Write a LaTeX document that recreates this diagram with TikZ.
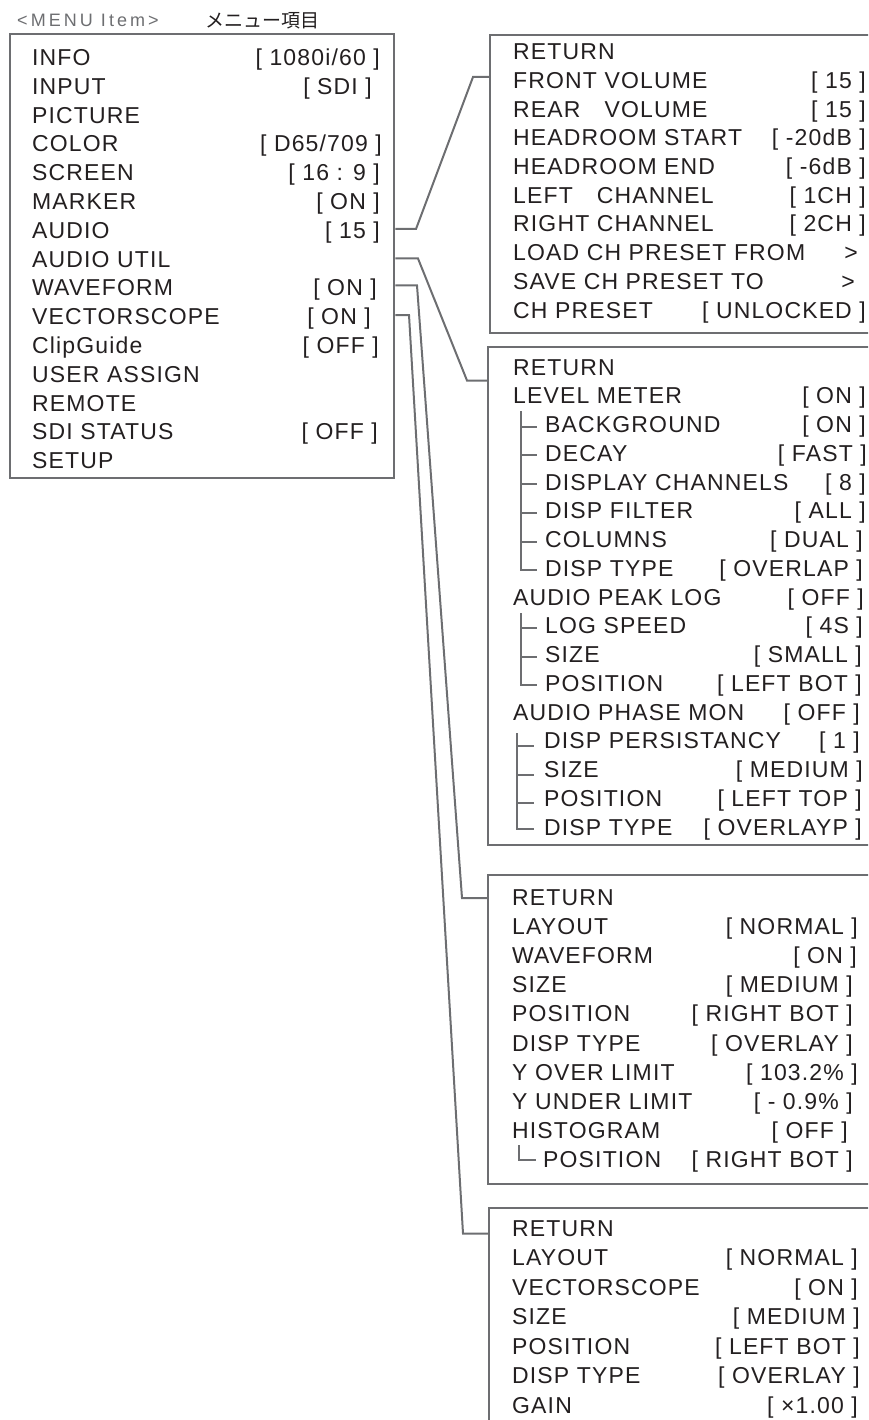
\documentclass[tikz,border=0pt]{standalone}
\usepackage{fontspec}
\setmainfont{Liberation Sans}
\newfontfamily\menufont[LetterSpace=5]{Liberation Sans}
\newfontfamily\headfont[LetterSpace=17]{Liberation Sans}
\newfontfamily\jpfont{Noto Sans CJK JP}
\definecolor{ink}{HTML}{231F20}
\definecolor{frame}{HTML}{6D6E71}

\begin{document}
\begin{tikzpicture}[x=1pt, y=-1pt, line join=miter, font=\menufont\fontsize{23}{23}\selectfont,
	lbl/.style={anchor=base west, inner sep=0pt, text=ink},
	val/.style={anchor=base east, inner sep=0pt, text=ink},
	menubox/.style={draw=frame, line width=2.3pt, anchor=north west, inner sep=0pt},
	link/.style={draw=frame, line width=2pt},
	tree/.style={draw=frame, line width=2pt}]
	\clip (0,0) rectangle (868,1420);
	
	% 1. Header
	\node[anchor=base west, inner sep=0pt, text=frame, font=\headfont\fontsize{18}{18}\selectfont] (hdr) at (17,27) {<MENU Item>};
	\node[lbl, font=\jpfont\fontsize{19}{19}\selectfont] (hdrjp) at (205,28) {メニュー項目};
	
	% 2. Main menu
	\node[menubox, minimum width=384pt, minimum height=444pt] (mainmenu) at (9,33) {};
	\foreach \txt [count=\i from 0] in {INFO, INPUT, PICTURE, COLOR, SCREEN, MARKER, AUDIO, AUDIO UTIL,
		WAVEFORM, VECTORSCOPE, ClipGuide, USER ASSIGN, REMOTE, SDI STATUS, SETUP} {
		\node[lbl] (m\i) at (32, 65.5+28.8*\i) {\txt};
	}
	\foreach \k/\txt/\vx in {0/{[ 1080i/60 ]}/380, 1/{[ SDI ]}/372, 3/{[ D65/709 ]}/382, 4/{[ 16 : 9 ]}/380,
		5/{[ ON ]}/380, 6/{[ 15 ]}/380, 8/{[ ON ]}/377, 9/{[ ON ]}/371, 10/{[ OFF ]}/379, 13/{[ OFF ]}/378} {
		\node[val] (mv\k) at (\vx, 65.5+28.8*\k) {\txt};
	}
	
	% 3. AUDIO
	\node[menubox, minimum width=392pt, minimum height=298pt] (audiobox) at (489,34) {};
	\foreach \txt [count=\i from 0] in {RETURN, FRONT VOLUME, \rlap{REAR}\hphantom{FRONT} VOLUME,
		HEADROOM START, HEADROOM END, \rlap{LEFT}\hphantom{RIGHT} CHANNEL, RIGHT CHANNEL,
		LOAD CH PRESET FROM, SAVE CH PRESET TO, CH PRESET} {
		\node[lbl] (a\i) at (513, 59.7+28.7*\i) {\txt};
	}
	\foreach \k/\txt/\vx in {1/{[ 15 ]}/866, 2/{[ 15 ]}/866, 3/{[ -20dB ]}/866, 4/{[ -6dB ]}/866,
		5/{[ 1CH ]}/866, 6/{[ 2CH ]}/866, 7/{>}/858, 8/{>}/855, 9/{[ UNLOCKED ]}/866} {
		\node[val] (av\k) at (\vx, 59.7+28.7*\k) {\txt};
	}
	
	% 4. AUDIO UTIL
	\node[menubox, minimum width=392pt, minimum height=498pt] (utilbox) at (487,346) {};
	\foreach \lx/\txt [count=\i from 0] in {513/RETURN, 513/LEVEL METER, 545/BACKGROUND, 545/DECAY,
		545/DISPLAY CHANNELS, 545/DISP FILTER, 545/COLUMNS, 545/DISP TYPE, 513/AUDIO PEAK LOG,
		545/LOG SPEED, 545/SIZE, 545/POSITION, 513/AUDIO PHASE MON, 544/DISP PERSISTANCY,
		544/SIZE, 544/POSITION, 544/DISP TYPE} {
		\node[lbl] (u\i) at (\lx, 375+28.75*\i) {\txt};
	}
	\foreach \k/\txt/\vx in {1/{[ ON ]}/866, 2/{[ ON ]}/866, 3/{[ FAST ]}/867, 4/{[ 8 ]}/866,
		5/{[ ALL ]}/866, 6/{[ DUAL ]}/863, 7/{[ OVERLAP ]}/863, 8/{[ OFF ]}/864, 9/{[ 4S ]}/863,
		10/{[ SMALL ]}/862, 11/{[ LEFT BOT ]}/862, 12/{[ OFF ]}/860, 13/{[ 1 ]}/860,
		14/{[ MEDIUM ]}/863, 15/{[ LEFT TOP ]}/862, 16/{[ OVERLAYP ]}/862} {
		\node[val] (uv\k) at (\vx, 375+28.75*\k) {\txt};
	}
	% sub-item trees
	\draw[tree] (521,411) -- (521,570.3) -- (537,570.3);
	\foreach \k in {2,...,6} {
		\draw[tree] (521,369+28.75*\k) -- (537,369+28.75*\k);
	}
	\draw[tree] (521,613) -- (521,685.3) -- (537,685.3);
	\foreach \k in {9,10} {
		\draw[tree] (521,369+28.75*\k) -- (537,369+28.75*\k);
	}
	\draw[tree] (517,733) -- (517,829) -- (534,829);
	\foreach \k in {13,14,15} {
		\draw[tree] (517,372+28.75*\k) -- (534,372+28.75*\k);
	}
	
	% 5. WAVEFORM
	\node[menubox, minimum width=392pt, minimum height=309pt] (wavebox) at (487,874) {};
	\foreach \lx/\txt [count=\i from 0] in {512/RETURN, 512/LAYOUT, 512/WAVEFORM, 512/SIZE, 512/POSITION,
		512/DISP TYPE, 512/Y OVER LIMIT, 512/Y UNDER LIMIT, 512/HISTOGRAM, 543/POSITION} {
		\node[lbl] (w\i) at (\lx, 905+29.2*\i) {\txt};
	}
	\foreach \k/\txt/\vx in {1/{[ NORMAL ]}/858, 2/{[ ON ]}/857, 3/{[ MEDIUM ]}/853, 4/{[ RIGHT BOT ]}/853,
		5/{[ OVERLAY ]}/853, 6/{[ 103.2\% ]}/858, 7/{[ - 0.9\% ]}/853, 8/{[ OFF ]}/848, 9/{[ RIGHT BOT ]}/853} {
		\node[val] (wv\k) at (\vx, 905+29.2*\k) {\txt};
	}
	\draw[tree] (519,1145) -- (519,1160) -- (536,1160);
	
	% 6. VECTORSCOPE
	\node[menubox, minimum width=392pt, minimum height=230pt] (vecbox) at (488,1207) {};
	\foreach \txt [count=\i from 0] in {RETURN, LAYOUT, VECTORSCOPE, SIZE, POSITION, DISP TYPE, GAIN} {
		\node[lbl] (v\i) at (512, 1236+29.5*\i) {\txt};
	}
	\foreach \k/\txt/\vx in {1/{[ NORMAL ]}/858, 2/{[ ON ]}/858, 3/{[ MEDIUM ]}/860, 4/{[ LEFT BOT ]}/860,
		5/{[ OVERLAY ]}/860, 6/{[ ×1.00 ]}/858} {
		\node[val] (vv\k) at (\vx, 1236+29.5*\k) {\txt};
	}
	
	% 7. Links from the main menu
	\coordinate (k1a) at (416,229);   \coordinate (k1b) at (473,77);
	\coordinate (k2a) at (418,258.5); \coordinate (k2b) at (467,380.5);
	\coordinate (k3a) at (417,285.5); \coordinate (k3b) at (462,898);
	\coordinate (k4a) at (409,315);   \coordinate (k4b) at (463,1233.5);
	\draw[link] (mainmenu.east |- k1a) -- (k1a) -- (k1b) -- (audiobox.west |- k1b);
	\draw[link] (mainmenu.east |- k2a) -- (k2a) -- (k2b) -- (utilbox.west |- k2b);
	\draw[link] (mainmenu.east |- k3a) -- (k3a) -- (k3b) -- (wavebox.west |- k3b);
	\draw[link] (mainmenu.east |- k4a) -- (k4a) -- (k4b) -- (vecbox.west |- k4b);
\end{tikzpicture}
\end{document}
